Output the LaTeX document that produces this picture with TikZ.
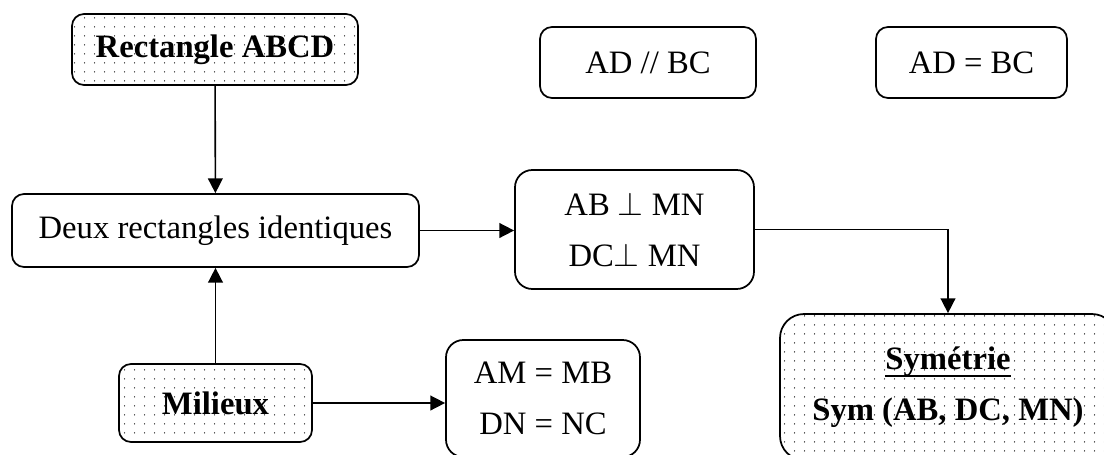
\documentclass[tikz,border=0pt]{standalone}
\usepackage{fontspec}
\setmainfont{Liberation Serif}
\usetikzlibrary{arrows.meta,patterns.meta}

\newcommand{\thickul}[1]{\setbox0\hbox{#1}\rlap{\vrule width\wd0 height -3.8pt depth 5.6pt}\box0}

\tikzdeclarepattern{
  name=wordDots,
  type=colored,
  bounding box={(0pt,0pt) and (7.5pt,6.75pt)},
  tile size={(7.5pt,6.75pt)},
  code={
    \fill[black] (3.75pt,3.4pt) circle (0.55pt);
  }
}

\begin{document}
\begin{tikzpicture}[x=7.5pt,y=7.5pt,
  box/.style={draw=black,line width=1.3pt,rounded corners=9pt,align=center,
    font=\fontsize{24.5}{38}\selectfont},
  dotbox/.style={box,pattern=wordDots,font=\fontsize{24.5}{38}\selectfont\bfseries},
  link/.style={draw=black,line width=1.2pt,-{Triangle[length=11pt,width=11pt]}}]
\tikzstyle{every node}+=[inner sep=0pt]
\useasboundingbox (0,0) rectangle (110.4,-45.4);
\clip (0,0) rectangle (110.4,-45.4);
% top row
\node[dotbox,minimum width=214.5pt,minimum height=53.25pt] (rect) at (21.5,-4.95) {Rectangle ABCD};
\node[box,minimum width=162pt,minimum height=53.25pt] (para) at (64.8,-6.25) {AD // BC};
\node[box,minimum width=143.25pt,minimum height=53.25pt] (egal) at (97.15,-6.25) {AD = BC};
% middle row
\node[box,minimum width=305.25pt,minimum height=54.75pt] (deux) at (21.55,-23.05) {Deux rectangles identiques};
\node[box,rounded corners=13pt,minimum width=179.25pt,minimum height=89.25pt] (perp) at (63.45,-22.95) {AB $\perp$ MN\\DC$\perp$ MN};
% bottom row
\node[dotbox,minimum width=144.75pt,minimum height=58.5pt] (mil) at (21.55,-40.3) {Milieux};
\node[box,rounded corners=13pt,minimum width=145.5pt,minimum height=87.75pt] (mid) at (54.3,-39.85) {AM = MB\\DN = NC};
\node[dotbox,rounded corners=18pt,minimum width=252pt,minimum height=109.5pt] (sym) at (94.8,-38.7) {\thickul{Symétrie}\\Sym (AB, DC, MN)};
% arrows
\draw[link] (rect) -- (deux);
\draw[link] (mil) -- (deux);
\draw[link] (deux.east) -- (deux.east -| perp.west);
\draw[link] (perp.east) -| (sym.north);
\draw[link] (mil.east) -- (mil.east -| mid.west);
\end{tikzpicture}
\end{document}
